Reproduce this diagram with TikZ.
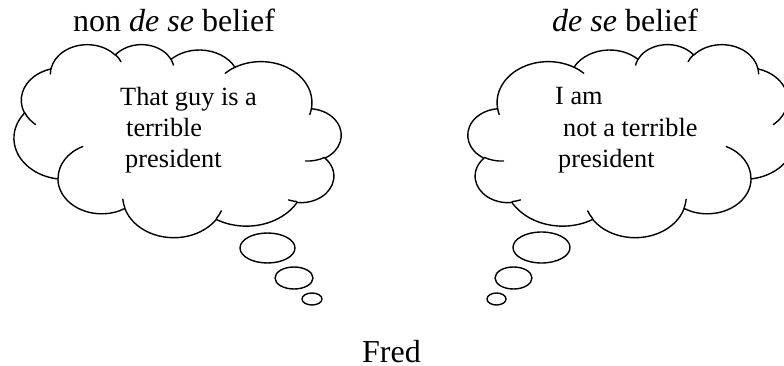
\documentclass[tikz,border=0pt]{standalone}
\usepackage{fontspec}
\setmainfont{Liberation Serif}
\tikzset{
  cloudline/.style={line width=1.4pt, line join=round, line cap=round},
  carc/.style n args={4}{insert path={arc[start angle={atan2((#1)*sin(#3),(#2)*cos(#3))}, delta angle={atan2((#1)*sin((#3)+(#4)),(#2)*cos((#3)+(#4)))-atan2((#1)*sin(#3),(#2)*cos(#3))-360*round((atan2((#1)*sin((#3)+(#4)),(#2)*cos((#3)+(#4)))-atan2((#1)*sin(#3),(#2)*cos(#3))-(#4))/360)}, x radius=#1, y radius=#2]}},
  title/.style={font=\fontsize{32}{38}\selectfont, anchor=base west, inner sep=0pt},
  thought/.style={font=\fontsize{26.3}{31}\selectfont, anchor=base west, inner sep=0pt},
  bubble/.style={line width=1.4pt}
}
% #1,#2: position of the box corner that maps to path (0,0); #3: x unit (negative mirrors)
\newcommand\mythoughtcloud[3]{%
  \begin{scope}[shift={(#1,#2)}, x=#3, y=-0.04468pt]
    \draw[cloudline] (390,1437)
      [carc={675.3}{919.0}{-190.4875}{123.7805}]
      [carc={533.3}{726.7}{-144.1024}{89.9452}]
      [carc={436.5}{594.5}{-145.8079}{99.7230}]
      [carc={485.7}{659.5}{-130.9861}{117.2417}]
      [carc={533.3}{727.3}{-78.7089}{109.0269}]
      [carc={677.5}{922.0}{-46.2673}{130.269}]
      [carc={578.5}{786.7}{0.6250}{114.0333}]
      [carc={675.2}{921.5}{22.4516}{115.1726}]
      [carc={772.0}{1054.3}{66.2426}{75.7110}]
      [carc={436.0}{591.8}{-274.9421}{146.7356}]
      [carc={434.5}{594.5}{-246.8285}{152.5301}] -- cycle;
    \draw[cloudline]
      (469.3,2617.7) [carc={434.5}{594.5}{86.742}{26.4295}]
      (692.8,3489.9) [carc={436.0}{591.8}{73.6105}{11.4475}]
      (1647.8,3909.0) [carc={675.2}{921.5}{137.6242}{14.0811}]
      (2882.7,3475.1) [carc={675.2}{921.5}{6.4533}{15.9984}]
      (3412.9,2295.4) [carc={578.5}{786.7}{-70.2924}{70.9174}]
      (4179.8,1535.4) [carc={533.3}{727.3}{30.3180}{27.7515}]
      (3832.4,542.6) [carc={485.7}{659.5}{-13.7443}{14.8589}]
      (2907.8,395.2) [carc={485.7}{659.5}{-149.1815}{18.1954}]
      (2214.1,472.0) [carc={436.5}{594.5}{-163.4943}{17.6864}]
      (1400.0,519.2) [carc={675.3}{919.0}{-66.7070}{12.3194}]
      (412.7,1578.9) [carc={675.3}{919.0}{157.6544}{11.8582}];
  \end{scope}}
\begin{document}
\begin{tikzpicture}[x=1pt,y=-1pt]
  \useasboundingbox (0,0) rectangle (784,366);
  \clip (0,0) rectangle (784,366);
  % clouds: left one is mirrored
  \mythoughtcloud{341}{44}{-0.07569pt}
  \mythoughtcloud{468}{44}{0.07569pt}
  % tail bubbles, left
  \draw[bubble] (267.5,248) ellipse [x radius=27.5, y radius=15];
  \draw[bubble] (294,278) ellipse [x radius=19, y radius=11];
  \draw[bubble] (312,299) ellipse [x radius=10, y radius=6];
  % tail bubbles, right
  \draw[bubble] (541.5,247.5) ellipse [x radius=28.5, y radius=15.5];
  \draw[bubble] (513.5,278) ellipse [x radius=18.5, y radius=11];
  \draw[bubble] (496.5,299) ellipse [x radius=9.5, y radius=6];
  % texts
  \node[title] (t1) at (73,32) {non \textit{de se} belief};
  \node[title] (t2) at (552,32) {\textit{de se} belief};
  \node[title, text depth=0pt] (fred) at (362,362) {Fred};
  \node[thought] (l1) at (120,106) {That guy is a};
  \node[thought] (l2) at (126,137) {terrible};
  \node[thought] (l3) at (125,168) {president};
  \node[thought] (r1) at (555,105) {I am};
  \node[thought] (r2) at (563,137) {not a terrible};
  \node[thought] (r3) at (558,168) {president};
\end{tikzpicture}
\end{document}
